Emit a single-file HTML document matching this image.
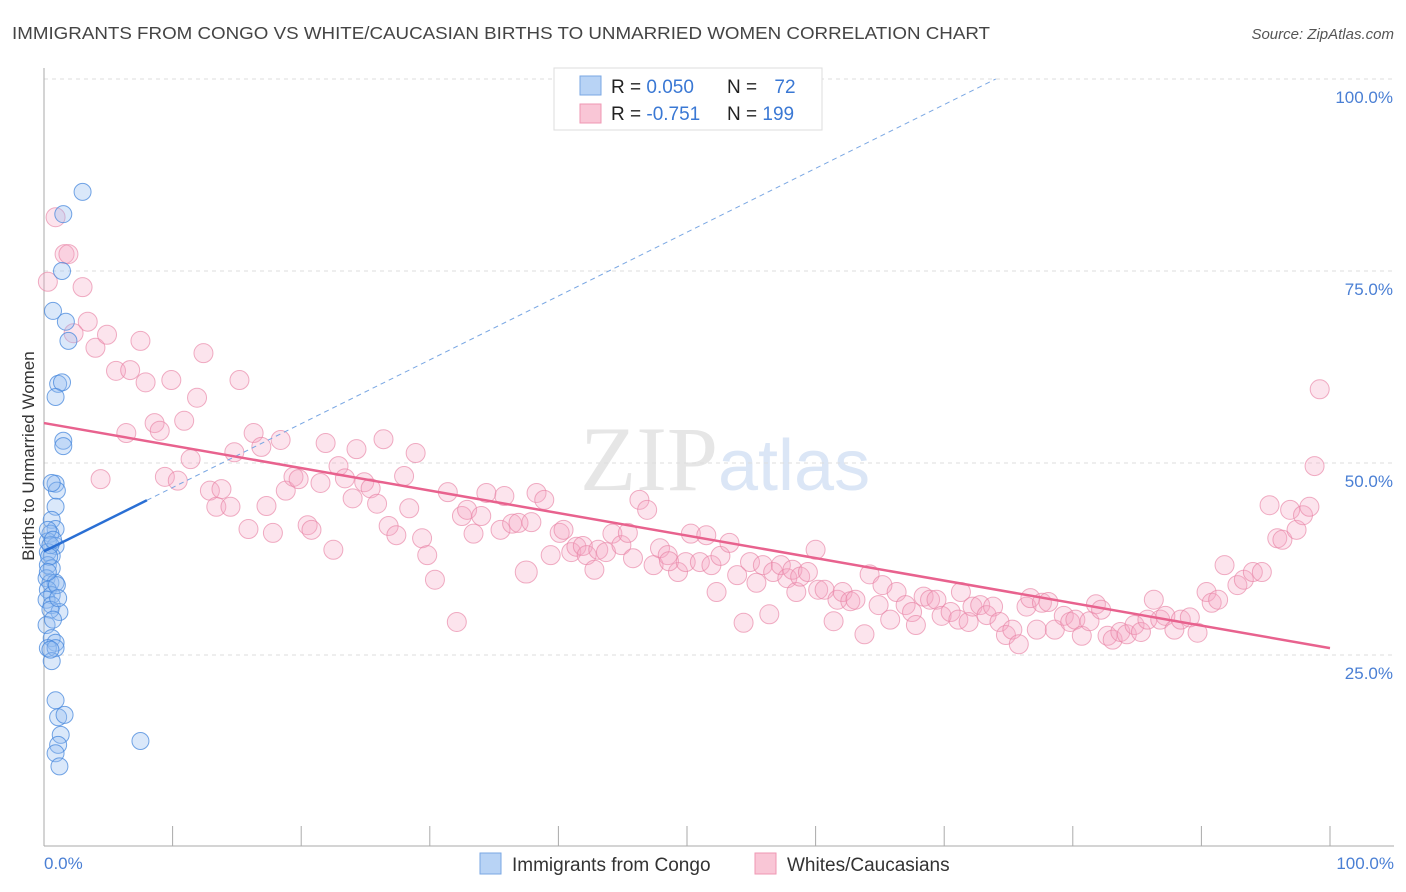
<!DOCTYPE html>
<html><head><meta charset="utf-8"><style>
body{margin:0;background:#fff;font-family:"Liberation Sans",sans-serif}
svg{display:block}
</style></head><body>
<svg width="1406" height="892">
<text x="12" y="39" font-size="17.5" fill="#444" textLength="978" lengthAdjust="spacingAndGlyphs">IMMIGRANTS FROM CONGO VS WHITE/CAUCASIAN BIRTHS TO UNMARRIED WOMEN CORRELATION CHART</text>
<text x="1394" y="39" font-size="15" fill="#555" font-style="italic" text-anchor="end">Source: ZipAtlas.com</text>
<text x="718" y="490" font-size="92" fill="#e6e6e6" font-family="Liberation Serif" text-anchor="end">ZIP</text>
<text x="718" y="490" font-size="72" fill="#dbe6f6">atlas</text>
<g id="grid"></g>
<line x1="44" y1="68" x2="44" y2="846" stroke="#aaa"/>
<line x1="44" y1="846" x2="1394" y2="846" stroke="#aaa"/>
<g id="ticks"></g>
<text transform="translate(34,456) rotate(-90)" font-size="17" fill="#333" text-anchor="middle">Births to Unmarried Women</text>
<text x="44" y="869" font-size="17" fill="#4a7fd4">0.0%</text>
<text x="1394" y="869" font-size="17" fill="#4a7fd4" text-anchor="end">100.0%</text>
<g id="pts"></g>
<g id="lines"></g>
<g>
<rect x="554" y="68" width="268" height="62" fill="#fff" stroke="#ddd"/>
<rect x="580" y="76" width="21" height="19" fill="#b8d3f5" stroke="#7aa7e3"/>
<rect x="580" y="104" width="21" height="19" fill="#f9c6d6" stroke="#ef97b3"/>
<text x="611" y="93" font-size="19" fill="#222">R = <tspan fill="#3a78d4">0.050</tspan></text>
<text x="727" y="93" font-size="19" fill="#222">N = <tspan fill="#3a78d4" dx="12">72</tspan></text>
<text x="611" y="120" font-size="19" fill="#222">R = <tspan fill="#3a78d4">-0.751</tspan></text>
<text x="727" y="120" font-size="19" fill="#222">N = <tspan fill="#3a78d4">199</tspan></text>
</g>
<g>
<rect x="480" y="853" width="21" height="21" fill="#b8d3f5" stroke="#7aa7e3"/>
<text x="512" y="871" font-size="19" fill="#333">Immigrants from Congo</text>
<rect x="755" y="853" width="21" height="21" fill="#f9c6d6" stroke="#ef97b3"/>
<text x="787" y="871" font-size="19" fill="#333">Whites/Caucasians</text>
</g>
</svg>
<script>
const yTicks=[25,50,75,100];
const yTickLabels=["25.0%","50.0%","75.0%","100.0%"];
const xTicks=[0,10,20,30,40,50,60,70,80,90,100];
const blueX=[3.0,1.5,1.4,0.7,1.7,1.9,1.1,1.4,0.9,1.5,1.5,0.9,1.0,0.6,0.9,0.6,0.9,0.5,0.3,0.9,0.3,0.6,0.3,0.6,0.2,0.5,0.9,0.3,0.6,0.2,0.6,1.2,0.5,0.2,0.6,0.9,0.3,0.9,0.6,0.9,1.1,1.6,1.3,1.1,0.9,1.2,7.5,0.3,0.5,0.7,0.4,1.0,0.7,0.5,0.3,1.1];
const blueY=[85.3,82.4,75.0,69.8,68.4,65.9,60.3,60.5,58.6,52.9,52.2,47.3,46.4,47.4,44.3,42.6,41.4,40.8,39.8,39.2,38.4,37.9,36.7,36.3,35.0,34.4,34.4,33.5,32.8,32.2,31.5,30.6,30.9,28.9,27.2,26.6,25.9,25.9,24.2,19.1,16.9,17.2,14.6,13.3,12.2,10.5,13.8,41.3,39.3,40.0,37.8,34.1,29.6,25.7,35.8,32.4];
const pinkX=[0.9,1.6,1.9,0.3,3.0,3.4,2.3,4.0,4.9,7.5,5.6,6.7,7.9,9.9,12.4,15.2,11.9,8.6,6.4,9.0,10.9,16.3,18.4,11.4,14.8,16.9,4.4,9.4,10.4,12.9,13.8,13.4,14.5,15.9,17.8,17.3,18.8,19.4,19.8,21.5,21.9,22.9,24.3,26.4,28.9,28.0,23.4,24.9,25.4,24.0,25.9,28.4,26.8,27.4,20.5,20.8,22.5,29.4,29.8,30.4,31.4,32.5,32.9,33.4,34.0,32.1,34.4,35.8,35.5,36.4,36.9,37.9,38.3,38.9,37.5,39.4,40.1,40.4,41.0,41.4,41.9,42.2,42.8,43.1,43.7,44.2,44.9,45.4,45.8,46.3,46.9,47.4,47.9,48.5,49.3,48.6,50.3,49.9,51.0,51.5,51.9,52.3,52.6,53.3,53.9,54.4,54.9,55.4,55.9,56.4,56.7,57.3,57.8,58.2,58.5,58.8,59.4,60.0,60.2,60.7,61.4,61.7,62.1,62.7,63.1,63.8,64.2,64.9,65.2,65.8,66.3,67.0,67.5,67.8,68.4,68.9,69.4,69.8,70.5,71.1,71.3,71.9,72.2,72.8,73.3,73.8,74.3,74.8,75.3,75.8,76.4,76.7,77.2,77.6,78.1,78.6,79.3,79.8,80.2,80.7,81.3,81.8,82.2,82.7,83.1,83.7,84.2,84.8,85.3,85.8,86.3,86.8,87.2,87.9,88.4,89.1,89.7,90.4,90.8,91.3,91.8,92.8,93.3,94.0,94.7,95.3,95.9,96.3,96.9,97.4,97.9,98.4,98.8,99.2];
const pinkY=[82.0,77.2,77.2,73.6,72.9,68.4,66.9,65.0,66.7,65.9,62.0,62.1,60.5,60.8,64.3,60.8,58.5,55.2,53.9,54.2,55.5,53.9,53.0,50.5,51.4,52.1,47.9,48.2,47.7,46.4,46.6,44.3,44.3,41.4,40.9,44.4,46.4,48.2,47.9,47.4,52.6,49.6,51.8,53.1,51.3,48.3,48.0,47.5,46.7,45.4,44.7,44.1,41.8,40.6,41.9,41.3,38.7,40.2,38.0,34.8,46.2,43.1,43.9,40.8,43.1,29.3,46.1,45.7,41.3,42.1,42.2,42.3,46.1,45.2,35.8,38.0,40.9,41.3,38.4,39.1,39.2,38.0,36.1,38.7,38.4,40.8,39.3,40.9,37.6,45.2,43.9,36.7,38.9,38.0,35.8,37.2,40.8,37.1,37.1,40.6,36.7,33.2,37.9,39.6,35.4,29.2,37.1,34.4,36.7,30.3,35.8,36.7,35.0,36.1,33.2,35.2,35.8,38.7,33.5,33.5,29.4,32.2,33.2,32.0,32.2,27.7,35.5,31.5,34.1,29.6,33.2,31.5,30.6,28.9,32.6,32.2,32.2,30.1,30.6,29.6,33.2,29.3,31.3,31.5,30.2,31.3,29.3,27.6,28.3,26.4,31.3,32.4,28.3,31.8,31.9,28.3,30.1,29.3,29.6,27.5,29.4,31.6,30.9,27.5,27.0,28.0,27.7,28.9,28.0,29.6,32.2,29.6,30.1,28.3,29.6,29.9,27.9,33.2,31.8,32.2,36.7,34.1,34.8,35.8,35.8,44.5,40.2,40.0,43.9,41.3,43.2,44.3,49.6,59.6];
const blueTrend=[38.5,0.831];   // intercept, slope
const pinkTrend=[55.2,-0.293];
const X=v=>44+v*12.86, Y=v=>847-v*7.68;
const NS="http://www.w3.org/2000/svg";
function mk(tag,attrs,parent){const e=document.createElementNS(NS,tag);for(const k in attrs)e.setAttribute(k,attrs[k]);document.getElementById(parent).appendChild(e);return e;}
yTicks.forEach((t,i)=>{
  const g=mk('line',{x1:44,x2:1394,y1:Y(t),y2:Y(t),stroke:'#ddd','stroke-dasharray':'4,4'},'grid');
  
  
  const l=mk('text',{x:1393,y:Y(t)+24,'font-size':17,fill:'#4a7fd4','text-anchor':'end'},'grid');
  l.textContent=yTickLabels[i];
  
  
});
xTicks.forEach(t=>{
  const e=mk('line',{x1:X(t),x2:X(t),y1:826,y2:846,stroke:'#aaa'},'ticks');
  
  
});
pinkX.forEach((x,i)=>{
  const c=mk('circle',{cx:X(x),cy:Y(pinkY[i]),r:(i==74?11:9.5),fill:'rgba(245,165,195,0.3)',stroke:'rgba(232,130,165,0.65)','stroke-width':1},'pts');
  
  
});
blueX.forEach((x,i)=>{
  const c=mk('circle',{cx:X(x),cy:Y(blueY[i]),r:8.5,fill:'rgba(150,190,240,0.35)',stroke:'rgba(70,135,220,0.75)','stroke-width':1},'pts');
  
  
});
const bEnd=(100-blueTrend[0])/blueTrend[1];
let l1=mk('line',{x1:X(8),y1:Y(blueTrend[0]+blueTrend[1]*8),x2:X(bEnd),y2:Y(100),stroke:'#7aa7e3','stroke-width':1,'stroke-dasharray':'5,4'},'lines');


let l2=mk('line',{x1:X(0),y1:Y(blueTrend[0]),x2:X(8),y2:Y(blueTrend[0]+blueTrend[1]*8),stroke:'#2a6fd4','stroke-width':2.5},'lines');


let l3=mk('line',{x1:X(0),y1:Y(pinkTrend[0]),x2:X(100),y2:Y(pinkTrend[0]+pinkTrend[1]*100),stroke:'#e8628e','stroke-width':2.5},'lines');


</script>
</body></html>
